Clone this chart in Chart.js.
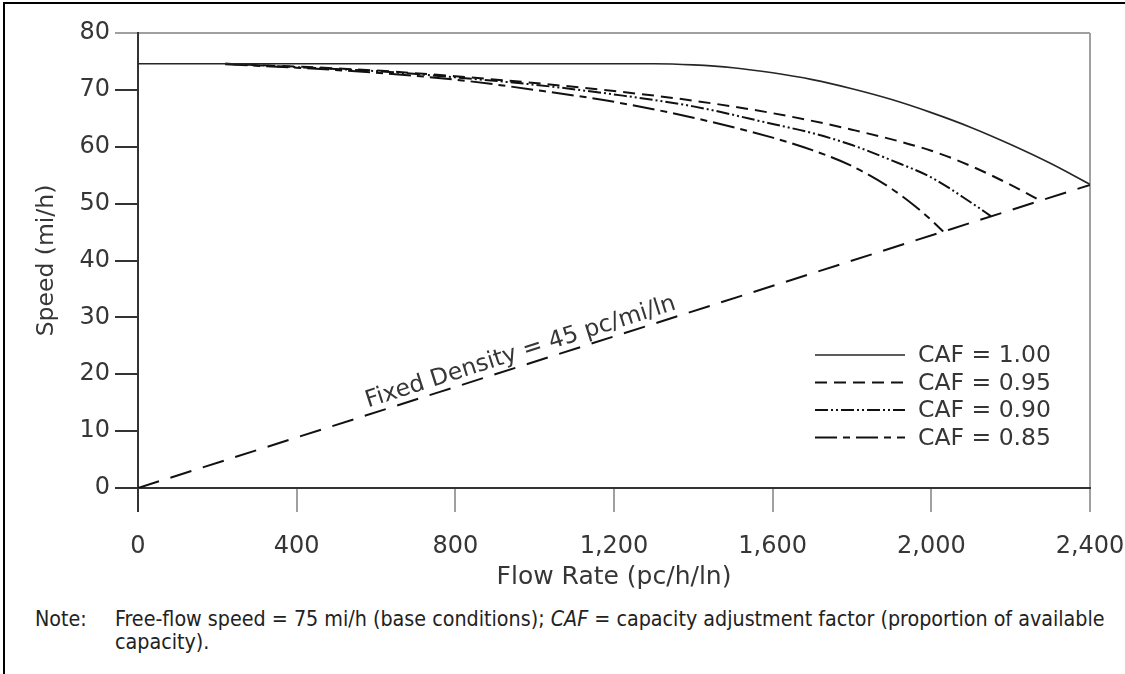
<!DOCTYPE html>
<html>
<head>
<meta charset="utf-8">
<script src="https://cdn.jsdelivr.net/npm/chart.js@4.4.1/dist/chart.umd.min.js"></script>
<style>
  html, body { margin: 0; padding: 0; background: #fff; }
  body { width: 1125px; height: 674px; position: relative; overflow: hidden; }
  #frame { position: absolute; left: 3px; top: 2px; right: -10px; bottom: -10px;
           border-left: 2px solid #000; border-top: 2px solid #000; }
  #chart-wrap { position: absolute; left: 0; top: 0; width: 1125px; height: 600px; }
  .note { position: absolute; font-family: "DejaVu Sans Condensed", "Liberation Sans", sans-serif;
          font-size: 17px; line-height: 23px; color: #222; white-space: nowrap; }
  #note-label { left: 35px; top: 607px; }
  #note-body { left: 115px; top: 607px; }
</style>
</head>
<body>
<div id="frame"></div>
<div id="chart-wrap"><canvas id="chart" width="1125" height="600"></canvas></div>
<div class="note" id="note-label">Note:</div>
<div class="note" id="note-body"><span id="note-line1">Free-flow speed = 75 mi/h (base conditions); <i>CAF</i> = capacity adjustment factor (proportion of available</span><br>capacity).</div>
<script>
/* globals Chart:false */

(() => {
  'use strict'

  // axis ticks
  const xTicks = [0, 400, 800, 1200, 1600, 2000, 2400]
  const yTicks = [0, 10, 20, 30, 40, 50, 60, 70, 80]

  // speed-flow curves (flow in pc/h/ln, speed in mi/h)
  const flowCaf100 = [0, 1300, 1400, 1500, 1600, 1700, 1800, 1900, 2000, 2100, 2200, 2300, 2400]
  const speedCaf100 = [74.6, 74.6, 74.4, 73.9, 73.0, 71.8, 70.2, 68.3, 66.0, 63.4, 60.4, 57.1, 53.4]

  const flowCaf095 = [220, 400, 600, 800, 1000, 1200, 1400, 1600, 1800, 2000, 2100, 2200, 2275]
  const speedCaf095 = [74.6, 74.1, 73.4, 72.4, 71.2, 69.8, 68.1, 65.9, 63.0, 59.3, 56.6, 53.3, 50.5]

  const flowCaf090 = [220, 400, 600, 800, 1000, 1200, 1400, 1600, 1700, 1800, 1900, 2000, 2100, 2150]
  const speedCaf090 = [74.6, 74.0, 73.3, 72.2, 70.9, 69.2, 67.1, 64.0, 62.4, 60.3, 57.6, 54.6, 50.2, 47.8]

  const flowCaf085 = [220, 400, 600, 800, 1000, 1200, 1400, 1600, 1700, 1800, 1900, 1960, 2000, 2030]
  const speedCaf085 = [74.5, 73.9, 73.0, 71.8, 70.0, 67.9, 65.1, 61.6, 59.4, 56.6, 52.6, 49.5, 47.1, 45.1]

  // fixed density line (45 pc/mi/ln)
  const flowDensity = [0, 2400]
  const speedDensity = [0, 53.3]
  const densityLabel = 'Fixed Density = 45 pc/mi/ln'
  const densityLabelFlow = 585

  const seriesLabels = ['CAF = 1.00', 'CAF = 0.95', 'CAF = 0.90', 'CAF = 0.85']

  const FONT = '"DejaVu Sans", Verdana, sans-serif'
  const TEXT = '#363636'

  const toPoints = (xs, ys) => xs.map((x, i) => ({ x: x, y: ys[i] }))

  const curve = (label, xs, ys, dash, color, width) => ({
    label: label,
    data: toPoints(xs, ys),
    borderColor: color,
    borderWidth: width,
    borderDash: dash,
    pointRadius: 0,
    fill: false,
    cubicInterpolationMode: 'monotone'
  })

  const datasets = [
    curve(seriesLabels[0], flowCaf100, speedCaf100, [], '#262626', 1.6),
    curve(seriesLabels[1], flowCaf095, speedCaf095, [12, 7], '#111', 2),
    curve(seriesLabels[2], flowCaf090, speedCaf090, [13, 3, 2, 3, 2, 3], '#111', 2),
    curve(seriesLabels[3], flowCaf085, speedCaf085, [22, 6, 7, 6], '#111', 2),
    curve('', flowDensity, speedDensity, [22, 12], '#111', 2)
  ]

  // legend drawn inside the plot, lower right
  const inlineLegend = {
    id: 'inlineLegend',
    afterDraw(chart) {
      const { ctx, chartArea } = chart
      ctx.save()
      ctx.font = '23.5px ' + FONT
      ctx.textBaseline = 'middle'
      ctx.fillStyle = TEXT
      let row = 0
      chart.data.datasets.forEach(ds => {
        if (!ds.label) return
        const y = chartArea.top + 322 + row * 27.5
        ctx.strokeStyle = ds.borderColor
        ctx.lineWidth = ds.borderWidth
        ctx.setLineDash(ds.borderDash)
        ctx.beginPath()
        ctx.moveTo(chartArea.right - 275, y)
        ctx.lineTo(chartArea.right - 185, y)
        ctx.stroke()
        ctx.setLineDash([])
        ctx.fillText(ds.label, chartArea.right - 172, y + 1)
        row++
      })
      ctx.restore()
    }
  }

  // rotated text along the fixed density line
  const densityText = {
    id: 'densityText',
    afterDatasetsDraw(chart) {
      const { ctx, scales } = chart
      const slope = speedDensity[1] / flowDensity[1]
      const x0 = scales.x.getPixelForValue(densityLabelFlow)
      const y0 = scales.y.getPixelForValue(densityLabelFlow * slope)
      const x1 = scales.x.getPixelForValue(flowDensity[1])
      const y1 = scales.y.getPixelForValue(speedDensity[1])
      ctx.save()
      ctx.translate(x0, y0)
      ctx.rotate(Math.atan2(y1 - y0, x1 - x0))
      ctx.font = '23.5px ' + FONT
      ctx.fillStyle = TEXT
      ctx.textAlign = 'left'
      ctx.textBaseline = 'alphabetic'
      ctx.fillText(densityLabel, 0, -7)
      ctx.restore()
    }
  }

  new Chart(document.getElementById('chart'), {
    type: 'line',
    data: { datasets: datasets },
    plugins: [inlineLegend, densityText],
    options: {
      responsive: false,
      animation: false,
      layout: { padding: { top: 33, left: 33, right: 35, bottom: 8 } },
      plugins: {
        legend: { display: false },
        tooltip: { enabled: false }
      },
      scales: {
        x: {
          type: 'linear',
          min: 0,
          max: 2400,
          afterBuildTicks: scale => { scale.ticks = xTicks.map(v => ({ value: v })) },
          afterFit: scale => {
            scale.height = 104
            scale.paddingLeft = 0
            scale.paddingRight = 0
          },
          ticks: {
            padding: 20,
            color: TEXT,
            font: { family: FONT, size: 24 },
            callback: v => v.toLocaleString('en-US')
          },
          grid: {
            drawOnChartArea: true,
            lineWidth: 2,
            tickLength: 24,
            color: c => (c.tick && c.tick.value === 2400) ? '#a0a0a0' : 'rgba(0,0,0,0)',
            tickColor: c => (c.tick && c.tick.value === 0) ? '#333' : '#a0a0a0'
          },
          border: { display: true, color: '#333', width: 2 },
          title: {
            display: true,
            text: 'Flow Rate (pc/h/ln)',
            color: TEXT,
            padding: 0,
            font: { family: FONT, size: 25 }
          }
        },
        y: {
          min: 0,
          max: 80,
          afterBuildTicks: scale => { scale.ticks = yTicks.map(v => ({ value: v })) },
          afterFit: scale => { scale.width = 105 },
          ticks: {
            padding: 5,
            color: TEXT,
            font: { family: FONT, size: 24 }
          },
          grid: {
            drawOnChartArea: true,
            lineWidth: 2,
            tickLength: 23,
            color: c => (c.tick && c.tick.value === 80) ? '#a0a0a0' : 'rgba(0,0,0,0)',
            tickColor: c => (c.tick && c.tick.value === 80) ? '#a0a0a0' : '#333'
          },
          border: { display: true, color: '#333', width: 2 },
          title: {
            display: true,
            text: 'Speed (mi/h)',
            color: TEXT,
            padding: 0,
            font: { family: FONT, size: 23.5 }
          }
        }
      }
    }
  })

  // stretch the note so its first line spans the same width as the figure's
  const line1 = document.getElementById('note-line1')
  const w = line1.getBoundingClientRect().width
  const size = 17 * 990 / w
  Array.from(document.getElementsByClassName('note')).forEach(el => {
    el.style.fontSize = size.toFixed(2) + 'px'
  })
})()
</script>
</body>
</html>
